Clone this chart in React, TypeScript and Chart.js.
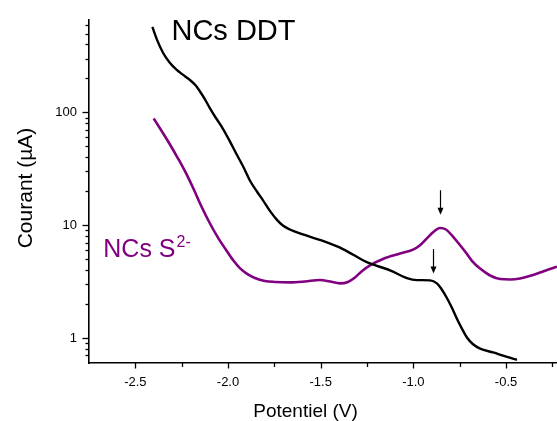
import React, { useEffect, useRef } from 'react';
import { Chart, registerables } from 'chart.js';

Chart.register(...registerables);

// NCs DDT curve
const ddtPotential = [-2.408, -2.384, -2.350, -2.314, -2.278, -2.244, -2.206, -2.174, -2.152, -2.125, -2.098, -2.066, -2.028, -1.990, -1.953, -1.915, -1.882, -1.845, -1.812, -1.774, -1.737, -1.704, -1.666, -1.612, -1.488, -1.380, -1.251, -1.126, -1.035, -0.981, -0.910, -0.873, -0.851, -0.819, -0.792, -0.765, -0.738, -0.711, -0.678, -0.640, -0.570, -0.495, -0.441];
const ddtCurrent = [572, 444, 336, 275, 239, 216, 194, 173, 154, 131, 109, 89.6, 71.9, 55.4, 42.3, 32.3, 24.9, 20.0, 16.7, 13.4, 11.2, 9.92, 9.16, 8.45, 7.25, 6.14, 4.70, 3.98, 3.40, 3.26, 3.24, 3.05, 2.76, 2.26, 1.85, 1.48, 1.21, 1.01, 0.88, 0.806, 0.744, 0.68, 0.64];

// NCs S2- curve
const s2Potential = [-2.401, -2.358, -2.314, -2.271, -2.228, -2.185, -2.142, -2.098, -2.055, -2.012, -1.974, -1.936, -1.899, -1.855, -1.801, -1.747, -1.666, -1.585, -1.504, -1.450, -1.396, -1.353, -1.315, -1.278, -1.234, -1.164, -1.072, -1.002, -0.964, -0.927, -0.889, -0.856, -0.824, -0.792, -0.759, -0.721, -0.684, -0.640, -0.586, -0.532, -0.478, -0.424, -0.354, -0.289, -0.225];
const s2Current = [88.3, 68.4, 52.2, 39.4, 29.2, 20.8, 14.5, 10.4, 7.80, 6.08, 4.93, 4.16, 3.72, 3.40, 3.20, 3.14, 3.11, 3.17, 3.27, 3.17, 3.05, 3.14, 3.44, 3.91, 4.41, 5.02, 5.61, 6.08, 6.65, 7.65, 8.80, 9.44, 9.16, 8.12, 6.99, 5.84, 4.83, 4.12, 3.58, 3.33, 3.30, 3.37, 3.61, 3.95, 4.28];

// Axis ticks
const xMajorTicks = [-2.5, -2.0, -1.5, -1.0, -0.5];
const xMinorTicks = [-2.25, -1.75, -1.25, -0.75, -0.25];
const yMajorTicks = [1, 10, 100];
const yMinorTicks = [0.7, 0.8, 0.9, 2, 3, 4, 5, 6, 7, 8, 9, 20, 30, 40, 50, 60, 70, 80, 90, 200, 300, 400, 500, 600];

const xTitle = 'Potentiel (V)';
const yTitle = 'Courant (µA)';
const ddtLabel = 'NCs DDT';
const s2LabelMain = 'NCs S';
const s2LabelSup = '2-';

const FONT = '"Liberation Sans", Arial, Helvetica, sans-serif';
const PURPLE = '#800080';

const decorPlugin = {
  id: 'decor',
  afterDraw(chart: any) {
    const ctx = chart.ctx as CanvasRenderingContext2D;
    const xs = chart.scales.x;
    const ys = chart.scales.y;
    const area = chart.chartArea;
    ctx.save();
    ctx.strokeStyle = '#000';
    ctx.lineWidth = 1.3;
    const drawX = (vals: number[], len: number) => {
      vals.forEach((v) => {
        const px = Math.round(xs.getPixelForValue(v)) + 0.5;
        if (px < area.left - 1 || px > area.right + 1) return;
        ctx.beginPath();
        ctx.moveTo(px, area.bottom);
        ctx.lineTo(px, area.bottom + len);
        ctx.stroke();
      });
    };
    drawX(xMajorTicks, 5.5);
    drawX(xMinorTicks, 4);
    const drawY = (vals: number[], len: number) => {
      vals.forEach((v) => {
        const py = Math.round(ys.getPixelForValue(v)) + 0.5;
        if (py < area.top - 1 || py > area.bottom + 1) return;
        ctx.beginPath();
        ctx.moveTo(area.left, py);
        ctx.lineTo(area.left - len, py);
        ctx.stroke();
      });
    };
    drawY(yMajorTicks, 6.5);
    drawY(yMinorTicks, 3.5);

    // axis titles
    ctx.fillStyle = '#000';
    ctx.font = `19px ${FONT}`;
    ctx.textAlign = 'center';
    ctx.textBaseline = 'alphabetic';
    ctx.fillText(xTitle, 305.5, 416.5);
    ctx.save();
    ctx.translate(31.5, 188);
    ctx.rotate(-Math.PI / 2);
    ctx.font = `21px ${FONT}`;
    ctx.fillText(yTitle, 0, 0);
    ctx.restore();

    // curve labels
    ctx.textAlign = 'left';
    ctx.font = `29px ${FONT}`;
    ctx.fillStyle = '#000';
    ctx.fillText(ddtLabel, xs.getPixelForValue(-2.305), ys.getPixelForValue(438));

    ctx.fillStyle = PURPLE;
    ctx.font = `25px ${FONT}`;
    const sx = xs.getPixelForValue(-2.673);
    const sy = ys.getPixelForValue(5.18);
    ctx.fillText(s2LabelMain, sx, sy);
    const w = ctx.measureText(s2LabelMain).width;
    ctx.font = `16px ${FONT}`;
    ctx.fillText(s2LabelSup, sx + w + 1, sy - 10);

    // arrows
    const arrow = (v: number, yTop: number, yTip: number) => {
      const px = Math.round(xs.getPixelForValue(v)) + 0.5;
      const p1 = ys.getPixelForValue(yTop);
      const p2 = ys.getPixelForValue(yTip);
      ctx.strokeStyle = '#000';
      ctx.fillStyle = '#000';
      ctx.lineWidth = 1.2;
      ctx.beginPath();
      ctx.moveTo(px, p1);
      ctx.lineTo(px, p2 - 5);
      ctx.stroke();
      ctx.beginPath();
      ctx.moveTo(px - 3, p2 - 7);
      ctx.lineTo(px + 3, p2 - 7);
      ctx.lineTo(px, p2);
      ctx.closePath();
      ctx.fill();
    };
    arrow(-0.856, 20.4, 12.4);
    arrow(-0.892, 6.14, 3.72);
    ctx.restore();
  },
};

export default function App() {
  const canvasRef = useRef<HTMLCanvasElement | null>(null);

  useEffect(() => {
    const canvas = canvasRef.current;
    if (!canvas) return;
    const chart = new Chart(canvas, {
      type: 'line',
      data: {
        datasets: [
          {
            label: ddtLabel,
            data: ddtPotential.map((x, i) => ({ x, y: ddtCurrent[i] })),
            borderColor: '#000000',
            borderWidth: 2.4,
            pointRadius: 0,
            cubicInterpolationMode: 'monotone',
            fill: false,
          },
          {
            label: 'NCs S2-',
            data: s2Potential.map((x, i) => ({ x, y: s2Current[i] })),
            borderColor: PURPLE,
            borderWidth: 2.6,
            pointRadius: 0,
            cubicInterpolationMode: 'monotone',
            fill: false,
          },
        ],
      },
      options: {
        animation: false,
        responsive: false,
        devicePixelRatio: 1,
        layout: { padding: { top: 16, right: 0, left: 0, bottom: 0 } },
        plugins: { legend: { display: false }, tooltip: { enabled: false } },
        scales: {
          x: {
            type: 'linear',
            min: -2.75,
            max: -0.225,
            grid: { display: false, drawTicks: false },
            border: { display: true, color: '#000', width: 1.6 },
            ticks: {
              color: '#000',
              font: { family: FONT, size: 13 },
              padding: 12,
              maxRotation: 0,
              autoSkip: false,
              callback: (v: any) => Number(v).toFixed(1),
            },
            afterBuildTicks: (s: any) => {
              s.ticks = xMajorTicks.map((value) => ({ value }));
            },
            afterFit: (s: any) => {
              s.height = 58;
            },
          },
          y: {
            type: 'logarithmic',
            min: 0.636,
            max: 662,
            grid: { display: false, drawTicks: false },
            border: { display: true, color: '#000', width: 1.6 },
            ticks: {
              color: '#000',
              font: { family: FONT, size: 13 },
              padding: 12,
              autoSkip: false,
              callback: (v: any) => String(v),
            },
            afterBuildTicks: (s: any) => {
              s.ticks = yMajorTicks.map((value) => ({ value }));
            },
            afterFit: (s: any) => {
              s.width = 89;
            },
          },
        },
      } as any,
      plugins: [decorPlugin],
    });
    return () => chart.destroy();
  }, []);

  return (
    <div style={{ position: 'fixed', left: 0, top: 0, width: 557, height: 421, background: '#fff', overflow: 'hidden' }}>
      <canvas ref={canvasRef} width={557} height={421} style={{ display: 'block', width: 557, height: 421 }} />
    </div>
  );
}
